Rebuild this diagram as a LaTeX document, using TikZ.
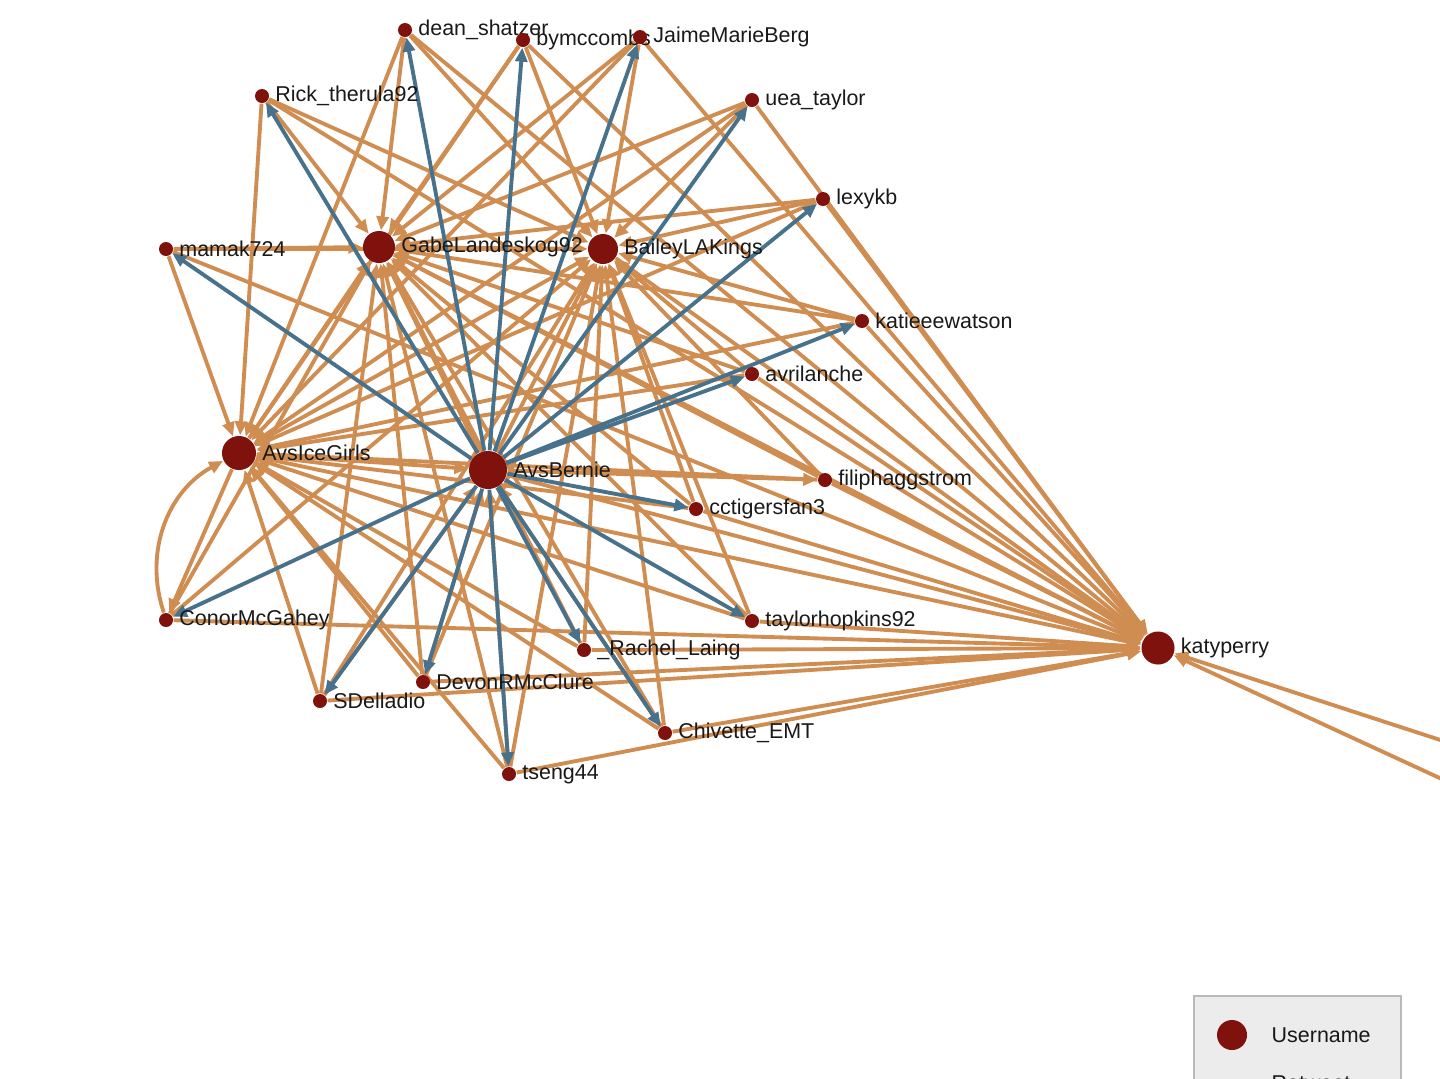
\documentclass[tikz,border=0pt]{standalone}
\usepackage{fontspec}
\setmainfont{Liberation Sans}
\usetikzlibrary{arrows.meta,backgrounds}
\definecolor{rtcol}{RGB}{208,141,82}
\definecolor{mncol}{RGB}{72,114,140}
\definecolor{usrcol}{RGB}{128,18,14}

\begin{document}
\begin{tikzpicture}[x=0.01cm,y=-0.01cm,label distance=0.05cm,
  usr/.style={circle,fill=usrcol,inner sep=0pt,minimum size=0.14cm},
  hub/.style={usr,minimum size=#1},
  lbl/.style={font=\fontsize{6.1}{7}\selectfont,text=black!90,inner sep=0pt},
  rt/.style={draw=rtcol,line width=1.1pt,-{Triangle[length=1.4mm,width=1.2mm]}},
  mn/.style={rt,draw=mncol}]
\useasboundingbox (0,0) rectangle (1440,1078);
\clip (0,0) rectangle (1440,1078);

% users
\node[usr,label={[lbl]right:dean\_shatzer}] (dean) at (405,30) {};
\node[usr,label={[lbl]right:bymccombs}] (bym) at (523,40) {};
\node[usr,label={[lbl]right:JaimeMarieBerg}] (jaime) at (640,37) {};
\node[usr,label={[lbl]right:Rick\_therula92}] (rick) at (262,96) {};
\node[usr,label={[lbl]right:uea\_taylor}] (uea) at (752,100) {};
\node[usr,label={[lbl]right:lexykb}] (lexy) at (823,199) {};
\node[usr,label={[lbl]right:mamak724}] (mamak) at (166,249) {};
\node[hub=0.32cm,label={[lbl]right:GabeLandeskog92}] (gabe) at (379,247) {};
\node[hub=0.30cm,label={[lbl]right:BaileyLAKings}] (bailey) at (603,249) {};
\node[usr,label={[lbl]right:katieeewatson}] (katie) at (862,321) {};
\node[usr,label={[lbl]right:avrilanche}] (avril) at (752,374) {};
\node[hub=0.34cm,label={[lbl]right:AvsIceGirls}] (icegirls) at (239,453) {};
\node[hub=0.38cm,label={[lbl]right:AvsBernie}] (bernie) at (488,470) {};
\node[usr,label={[lbl]right:filiphaggstrom}] (filip) at (825,480) {};
\node[usr,label={[lbl]right:cctigersfan3}] (cctig) at (696,509) {};
\node[usr,label={[lbl]right:ConorMcGahey}] (conor) at (166,620) {};
\node[usr,label={[lbl]right:taylorhopkins92}] (thopk) at (752,621) {};
\node[usr,label={[lbl]right:\_Rachel\_Laing}] (rachel) at (584,650) {};
\node[hub=0.33cm,label={[lbl]right:katyperry}] (katy) at (1158,648) {};
\node[usr,label={[lbl]right:DevonRMcClure}] (devon) at (423,682) {};
\node[usr,label={[lbl]right:SDelladio}] (sdell) at (320,701) {};
\node[usr,label={[lbl]right:Chivette\_EMT}] (chiv) at (665,733) {};
\node[usr,label={[lbl]right:tseng44}] (tseng) at (509,774) {};
\coordinate (offa) at (1600,792);
\coordinate (offb) at (1600,852);

% legend
\draw[draw=gray!55,fill=gray!15] (1194,996) rectangle (1401,1120);
\node[hub=0.30cm] (lgusr) at (1232,1035) {};
\node[lbl,anchor=west] (lgusrtxt) at (1271,1035) {Username};
\node[lbl,anchor=west] (lgrttxt) at (1271,1083) {Retweet};

\begin{pgfonlayer}{background}
% retweets
\draw[rt] (dean) -- (gabe); \draw[rt] (dean) -- (bailey); \draw[rt] (dean) -- (icegirls); \draw[rt] (dean) -- (katy);
\draw[rt] (bym) -- (gabe); \draw[rt] (bym) -- (bailey); \draw[rt] (bym) -- (icegirls); \draw[rt] (bym) -- (katy);
\draw[rt] (jaime) -- (gabe); \draw[rt] (jaime) -- (bailey); \draw[rt] (jaime) -- (icegirls); \draw[rt] (jaime) -- (katy);
\draw[rt] (rick) -- (gabe); \draw[rt] (rick) -- (bailey); \draw[rt] (rick) -- (icegirls); \draw[rt] (rick) -- (katy);
\draw[rt] (uea) -- (gabe); \draw[rt] (uea) -- (bailey); \draw[rt] (uea) -- (icegirls); \draw[rt] (uea) -- (katy);
\draw[rt] (lexy) -- (gabe); \draw[rt] (lexy) -- (bailey); \draw[rt] (lexy) -- (icegirls); \draw[rt] (lexy) -- (katy);
\draw[rt] (mamak) -- (gabe); \draw[rt] (mamak) -- (bailey); \draw[rt] (mamak) -- (icegirls); \draw[rt] (mamak) -- (katy);
\draw[rt] (katie) -- (gabe); \draw[rt] (katie) -- (bailey); \draw[rt] (katie) -- (icegirls); \draw[rt] (katie) -- (katy);
\draw[rt] (avril) -- (gabe); \draw[rt] (avril) -- (bailey); \draw[rt] (avril) -- (icegirls); \draw[rt] (avril) -- (katy);
\draw[rt] (filip) -- (gabe); \draw[rt] (filip) -- (bailey); \draw[rt] (filip) -- (icegirls); \draw[rt] (filip) -- (katy);
\draw[rt] (cctig) -- (gabe); \draw[rt] (cctig) -- (bailey); \draw[rt] (cctig) -- (icegirls); \draw[rt] (cctig) -- (katy);
\draw[rt] (conor) -- (gabe); \draw[rt] (conor) -- (bailey); \draw[rt] (conor) to[bend left=40] (icegirls); \draw[rt] (conor) -- (katy);
\draw[rt] (thopk) -- (gabe); \draw[rt] (thopk) -- (bailey); \draw[rt] (thopk) -- (icegirls); \draw[rt] (thopk) -- (katy);
\draw[rt] (rachel) -- (gabe); \draw[rt] (rachel) -- (bailey); \draw[rt] (rachel) -- (icegirls); \draw[rt] (rachel) -- (katy);
\draw[rt] (devon) -- (gabe); \draw[rt] (devon) -- (bailey); \draw[rt] (devon) -- (icegirls); \draw[rt] (devon) -- (katy);
\draw[rt] (sdell) -- (gabe); \draw[rt] (sdell) -- (bailey); \draw[rt] (sdell) -- (icegirls); \draw[rt] (sdell) -- (katy);
\draw[rt] (chiv) -- (gabe); \draw[rt] (chiv) -- (bailey); \draw[rt] (chiv) -- (icegirls); \draw[rt] (chiv) -- (katy);
\draw[rt] (tseng) -- (gabe); \draw[rt] (tseng) -- (bailey); \draw[rt] (tseng) -- (icegirls); \draw[rt] (tseng) -- (katy);
\draw[rt] (tseng) -- (bernie); \draw[rt] (devon) -- (bernie); \draw[rt] (sdell) -- (bernie); \draw[rt] (chiv) -- (bernie);
\draw[rt] (bernie) -- (filip); \draw[rt] (icegirls) -- (conor);
% between the big accounts
\draw[rt] (icegirls) -- (bernie); \draw[rt] (icegirls) -- (gabe); \draw[rt] (icegirls) -- (bailey); \draw[rt] (icegirls) -- (katy);
\draw[rt] (gabe) -- (bailey); \draw[rt] (gabe) -- (katy); \draw[rt] (bailey) -- (katy);
\draw[rt] (bernie) -- (gabe); \draw[rt] (bernie) -- (bailey); \draw[rt] (bernie) -- (katy);
\draw[rt] (offa) -- (katy); \draw[rt] (offb) -- (katy);
% mentions
\draw[mn] (bernie) -- (dean); \draw[mn] (bernie) -- (bym); \draw[mn] (bernie) -- (jaime);
\draw[mn] (bernie) -- (rick); \draw[mn] (bernie) -- (uea); \draw[mn] (bernie) -- (lexy);
\draw[mn] (bernie) -- (mamak); \draw[mn] (bernie) -- (katie); \draw[mn] (bernie) -- (avril);
\draw[mn] (bernie) -- (cctig); \draw[mn] (bernie) -- (conor); \draw[mn] (bernie) -- (thopk);
\draw[mn] (bernie) -- (rachel); \draw[mn] (bernie) -- (devon); \draw[mn] (bernie) -- (sdell);
\draw[mn] (bernie) -- (chiv); \draw[mn] (bernie) -- (tseng);
\end{pgfonlayer}
\end{tikzpicture}
\end{document}
